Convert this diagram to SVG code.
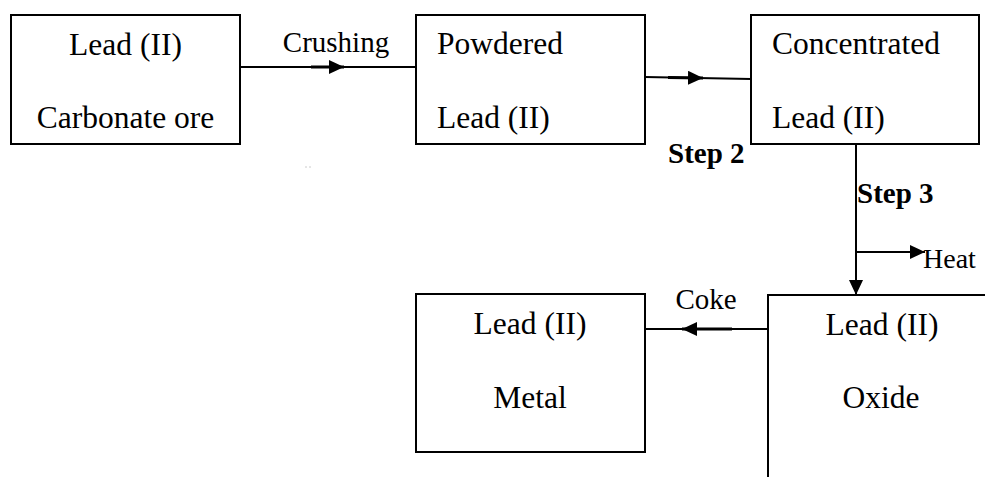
<svg xmlns="http://www.w3.org/2000/svg" width="985" height="477" viewBox="0 0 985 477">
<defs>
<style>
.box{fill:#fff;stroke:#000;stroke-width:2}
.t{font-family:"Liberation Serif","Times New Roman",serif;font-size:31.5px;fill:#000}
.lbl{font-family:"Liberation Serif","Times New Roman",serif;font-size:29px;fill:#000}
.b{font-family:"Liberation Serif","Times New Roman",serif;font-size:29px;font-weight:bold;fill:#000}
.ln{fill:none;stroke:#000;stroke-width:2}
.thk{fill:none;stroke:#000;stroke-width:3}
</style>
<marker id="ah" markerUnits="userSpaceOnUse" markerWidth="15" markerHeight="14" refX="15" refY="7" orient="auto">
<path d="M0,0 L15,7 L0,14 z" fill="#000"/>
</marker>
</defs>
<rect width="985" height="477" fill="#fff"/>
<g id="connectors">
<line class="ln" x1="240" y1="67" x2="416" y2="67"/>
<line class="thk" x1="311" y1="67" x2="344" y2="67" marker-end="url(#ah)"/>
<line class="ln" x1="645" y1="77" x2="751" y2="79"/>
<line class="thk" x1="668" y1="77.5" x2="703" y2="78" marker-end="url(#ah)"/>
<line class="ln" x1="856" y1="144" x2="856" y2="295" marker-end="url(#ah)"/>
<line class="ln" x1="856" y1="252" x2="925" y2="252" marker-end="url(#ah)"/>
<line class="ln" x1="645" y1="329" x2="768" y2="329"/>
<line class="thk" x1="732" y1="329" x2="682" y2="329" marker-end="url(#ah)"/>
<text class="lbl" x="336" y="52" text-anchor="middle">Crushing</text>
<text class="b" x="668" y="163">Step 2</text>
<text class="b" x="857" y="203">Step 3</text>
<text class="lbl" x="923" y="268" style="font-size:28px">Heat</text>
<text class="lbl" x="706" y="309" text-anchor="middle">Coke</text>
</g>
<g id="node-carbonate">
<rect class="box" x="11" y="15" width="229" height="129"/>
<text class="t" x="125.5" y="55" text-anchor="middle">Lead (II)</text>
<text class="t" x="125.5" y="128" text-anchor="middle">Carbonate ore</text>
</g>
<g id="node-powdered">
<rect class="box" x="416" y="15" width="229" height="129"/>
<text class="t" x="437" y="54">Powdered</text>
<text class="t" x="437" y="128">Lead (II)</text>
</g>
<g id="node-concentrated">
<rect class="box" x="751" y="15" width="228" height="129"/>
<text class="t" x="772" y="54">Concentrated</text>
<text class="t" x="772" y="128">Lead (II)</text>
</g>
<g id="node-oxide">
<path class="ln" d="M985,295 L768,295 L768,477"/>
<text class="t" x="882" y="335" text-anchor="middle">Lead (II)</text>
<text class="t" x="881" y="408" text-anchor="middle">Oxide</text>
</g>
<g id="node-metal">
<rect class="box" x="416" y="294" width="229" height="158"/>
<text class="t" x="530" y="334" text-anchor="middle">Lead (II)</text>
<text class="t" x="530" y="408" text-anchor="middle">Metal</text>
</g>
<path d="M305,167 h2 M309,167 h2" stroke="#ccc" stroke-width="1"/>
</svg>
